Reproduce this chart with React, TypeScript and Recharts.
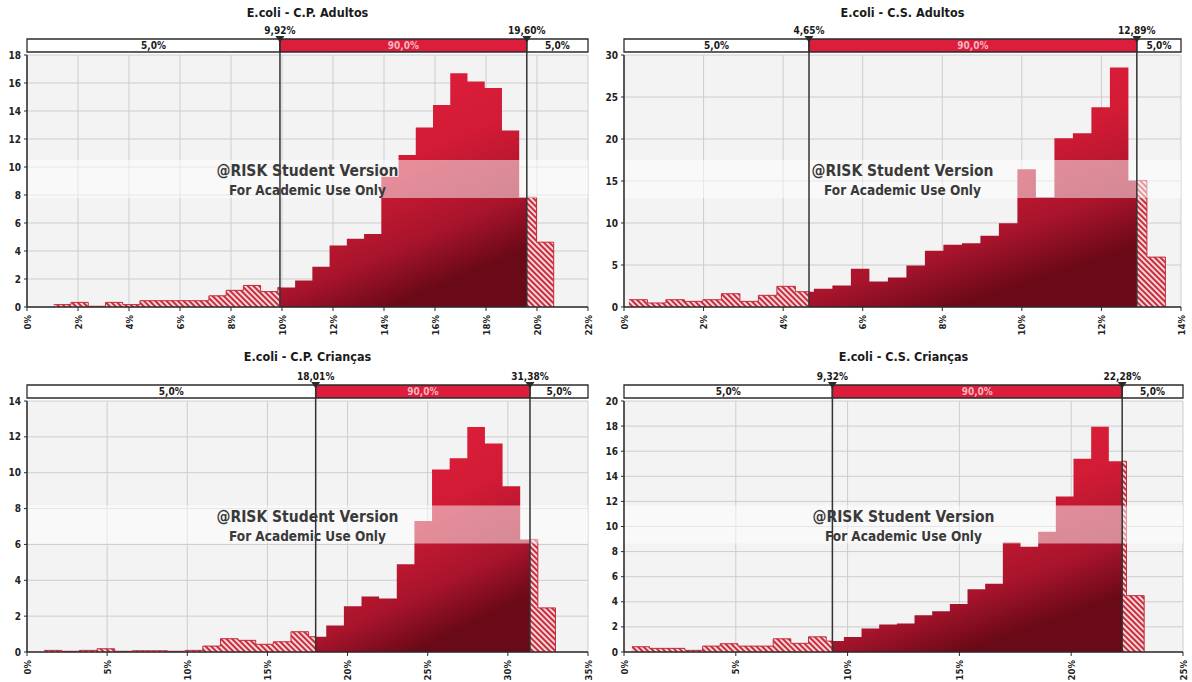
import React from 'react';
import {
  ComposedChart, Area, XAxis, YAxis, CartesianGrid,
  ReferenceArea, ReferenceLine, ReferenceDot,
} from 'recharts';

const FONT = '"DejaVu Sans Condensed", "DejaVu Sans", sans-serif';

// bin heights, bins start at *Start and are *Width wide (in %)
const cpAdultosHeights = [
  0.17, 0.33, 0.05, 0.33, 0.17, 0.45, 0.45, 0.45, 0.45, 0.8, 1.19, 1.54, 1.1, 1.4,
  1.9, 2.87, 4.4, 4.87, 5.22, 9.3, 10.86, 12.83, 14.43, 16.7, 16.1, 15.64, 12.6, 7.84, 4.63,
];
const cpAdultosStart = 1.05;
const cpAdultosWidth = 0.676;
const cpAdultosLimits = [9.92, 19.6];
const cpAdultosXTicks = [0, 2, 4, 6, 8, 10, 12, 14, 16, 18, 20, 22];
const cpAdultosYTicks = [0, 2, 4, 6, 8, 10, 12, 14, 16, 18];

const csAdultosHeights = [
  0.87, 0.48, 0.87, 0.67, 0.87, 1.58, 0.67, 1.39, 2.46, 1.82, 2.18, 2.57, 4.55, 3.05,
  3.52, 4.95, 6.69, 7.4, 7.6, 8.47, 9.98, 16.4, 13.07, 20.08, 20.67, 23.77, 28.5, 15.05, 5.94,
];
const csAdultosStart = 0.123;
const csAdultosWidth = 0.465;
const csAdultosLimits = [4.65, 12.89];
const csAdultosXTicks = [0, 2, 4, 6, 8, 10, 12, 14];
const csAdultosYTicks = [0, 5, 10, 15, 20, 25, 30];

const cpCriancasHeights = [
  0.09, 0.04, 0.09, 0.18, 0.04, 0.07, 0.07, 0.04, 0.09, 0.33, 0.74, 0.65, 0.43, 0.57,
  1.13, 0.85, 1.48, 2.55, 3.1, 2.98, 4.9, 7.3, 10.18, 10.8, 12.55, 11.63, 9.24, 6.28, 2.46,
];
const cpCriancasStart = 1.07;
const cpCriancasWidth = 1.1;
const cpCriancasLimits = [18.01, 31.38];
const cpCriancasXTicks = [0, 5, 10, 15, 20, 25, 30, 35];
const cpCriancasYTicks = [0, 2, 4, 6, 8, 10, 12, 14];

const csCriancasHeights = [
  0.42, 0.29, 0.29, 0.13, 0.47, 0.66, 0.47, 0.47, 1.05, 0.69, 1.21, 0.87, 1.19, 1.87,
  2.19, 2.27, 2.93, 3.25, 3.83, 5.01, 5.44, 8.73, 8.39, 9.58, 12.4, 15.39, 17.95, 15.2, 4.49,
];
const csCriancasStart = 0.353;
const csCriancasWidth = 0.79;
const csCriancasLimits = [9.32, 22.28];
const csCriancasXTicks = [0, 5, 10, 15, 20, 25];
const csCriancasYTicks = [0, 2, 4, 6, 8, 10, 12, 14, 16, 18, 20];

const delimiterLabels = ['5,0%', '90,0%', '5,0%'];

type Row = { x: number; inner: number | null; outer: number | null };

// split the histogram into the part inside the 90% interval and the tails
function buildRows(heights: number[], start: number, width: number, lo: number, hi: number): Row[] {
  const rows: Row[] = [];
  heights.forEach((h, i) => {
    const x0 = start + i * width;
    const x1 = x0 + width;
    const inside = x0 >= lo && x0 < hi;
    rows.push({ x: x0, inner: inside ? h : null, outer: inside ? null : h });
    if (lo > x0 && lo < x1) rows.push({ x: lo, inner: h, outer: 0 });
    if (hi > x0 && hi < x1) rows.push({ x: hi, inner: 0, outer: h });
  });
  rows.push({ x: start + heights.length * width, inner: null, outer: 0 });
  return rows;
}

const fmtPct = (v: number) => `${v.toFixed(2).replace('.', ',')}%`;

const XTick = (props: any) => {
  const { x, y, payload } = props;
  const ty = y + 2;
  return (
    <text
      x={x}
      y={ty}
      transform={`rotate(-90, ${x}, ${ty})`}
      textAnchor="end"
      dominantBaseline="central"
      fontSize={9.5}
      fontWeight="bold"
      fontFamily={FONT}
      fill="#222"
    >
      {`${payload.value}%`}
    </text>
  );
};

const marker = (label: string) => (props: any) => {
  const { cx, cy } = props;
  return (
    <g>
      <polygon points={`${cx - 4.5},${cy - 3} ${cx + 4.5},${cy - 3} ${cx},${cy + 3.5}`} fill="#2a2a2a" />
      <text x={cx} y={cy - 5.5} textAnchor="middle" fontSize={10} fontWeight="bold" fontFamily={FONT} fill="#1a1a1a">
        {label}
      </text>
    </g>
  );
};

interface PanelProps {
  id: string;
  title: string;
  heights: number[];
  start: number;
  width: number;
  limits: number[];
  xTicks: number[];
  yTicks: number[];
  left: number;
  top: number;
  chartH: number;
  xAxisH: number;
  titleTop: number;
  margin: { top: number; right: number; bottom: number; left: number };
}

const W = 596;
const Y_AXIS_W = 22;

function Histogram(p: PanelProps) {
  const [lo, hi] = p.limits;
  const xMax = p.xTicks[p.xTicks.length - 1];
  const yMax = p.yTicks[p.yTicks.length - 1];
  const plotLeft = p.margin.left + Y_AXIS_W;
  const plotRight = W - p.margin.right;
  const plotTop = p.margin.top;
  const plotH = p.chartH - p.margin.bottom - p.xAxisH - plotTop;
  const plotW = plotRight - plotLeft;
  const ppu = plotH / yMax;
  const delimTop = yMax + 16 / ppu;
  const delimBottom = yMax + 3 / ppu;
  const bandTop = yMax - (plotH / 2 - 21) / ppu;
  const bandBottom = yMax - (plotH / 2 + 17) / ppu;
  const rows = React.useMemo(() => buildRows(p.heights, p.start, p.width, lo, hi), [p.heights, p.start, p.width, lo, hi]);
  const lblStyle = { fontSize: 10, fontWeight: 'bold', fontFamily: FONT };

  return (
    <div style={{ position: 'absolute', left: p.left, top: p.top, width: W, height: p.chartH }}>
      <div
        style={{
          position: 'absolute', left: plotLeft, width: plotW, top: p.titleTop, textAlign: 'center',
          fontFamily: FONT, fontWeight: 'bold', fontSize: 12.5, color: '#1a1a1a', lineHeight: '16px',
        }}
      >
        {p.title}
      </div>
      <ComposedChart width={W} height={p.chartH} data={rows} margin={p.margin}>
        <defs>
          <linearGradient id={`solid-${p.id}`} x1="0" y1="0" x2="0.45" y2="1">
            <stop offset="0" stopColor="#e4203e" />
            <stop offset="0.5" stopColor="#d21b35" />
            <stop offset="0.8" stopColor="#a8142c" />
            <stop offset="1" stopColor="#6a0917" />
          </linearGradient>
          <pattern id={`hatch-${p.id}`} width="4" height="4" patternUnits="userSpaceOnUse" patternTransform="rotate(-45)">
            <rect width="4" height="4" fill="#f6d8d8" />
            <rect width="2" height="4" fill="#c92c3e" />
          </pattern>
        </defs>
        <CartesianGrid stroke="#cdcdcd" fill="#f3f3f3" />
        <XAxis
          dataKey="x"
          type="number"
          domain={[0, xMax]}
          ticks={p.xTicks}
          allowDataOverflow
          height={p.xAxisH}
          tick={<XTick />}
          tickSize={4}
          tickMargin={2}
          stroke="#2a2a2a"
          axisLine={{ stroke: '#2a2a2a', strokeWidth: 1.5 }}
          interval={0}
        />
        <YAxis
          type="number"
          domain={[0, yMax]}
          ticks={p.yTicks}
          width={Y_AXIS_W}
          tickSize={3}
          tickMargin={3}
          interval={0}
          stroke="#2a2a2a"
          axisLine={{ stroke: '#2a2a2a', strokeWidth: 1.5 }}
          tick={{ fontSize: 10, fontWeight: 'bold', fill: '#222', fontFamily: FONT }}
        />
        <Area
          type="stepAfter"
          dataKey="outer"
          baseValue={0}
          fill={`url(#hatch-${p.id})`}
          fillOpacity={1}
          stroke="#c42a3a"
          strokeWidth={1}
          dot={false}
          activeDot={false}
          isAnimationActive={false}
        />
        <Area
          type="stepAfter"
          dataKey="inner"
          baseValue={0}
          fill={`url(#solid-${p.id})`}
          fillOpacity={1}
          stroke="none"
          dot={false}
          activeDot={false}
          isAnimationActive={false}
        />
        {/* watermark band */}
        <ReferenceArea
          x1={0}
          x2={xMax}
          y1={bandBottom}
          y2={bandTop}
          fill="#ffffff"
          fillOpacity={0.5}
          stroke="none"
          zIndex={200}
        />
        {/* delimiter bar above the plot */}
        <ReferenceArea x1={0} x2={lo} y1={delimBottom} y2={delimTop} ifOverflow="visible" fill="#ffffff" fillOpacity={1}
          stroke="#2b2b2b" strokeWidth={1.3} zIndex={500}
          label={{ value: delimiterLabels[0], position: 'center', fill: '#1a1a1a', ...lblStyle }} />
        <ReferenceArea x1={lo} x2={hi} y1={delimBottom} y2={delimTop} ifOverflow="visible" fill="#dc1d3b" fillOpacity={1}
          stroke="#2b2b2b" strokeWidth={1.3} zIndex={500}
          label={{ value: delimiterLabels[1], position: 'center', fill: '#f6b6c0', ...lblStyle }} />
        <ReferenceArea x1={hi} x2={xMax} y1={delimBottom} y2={delimTop} ifOverflow="visible" fill="#ffffff" fillOpacity={1}
          stroke="#2b2b2b" strokeWidth={1.3} zIndex={500}
          label={{ value: delimiterLabels[2], position: 'center', fill: '#1a1a1a', ...lblStyle }} />
        <ReferenceLine segment={[{ x: lo, y: 0 }, { x: lo, y: delimTop }]} ifOverflow="visible" stroke="#333" strokeWidth={1.5} zIndex={700} />
        <ReferenceLine segment={[{ x: hi, y: 0 }, { x: hi, y: delimTop }]} ifOverflow="visible" stroke="#333" strokeWidth={1.5} zIndex={700} />
        <ReferenceDot x={lo} y={delimTop} ifOverflow="visible" r={4} shape={marker(fmtPct(lo))} zIndex={800} />
        <ReferenceDot x={hi} y={delimTop} ifOverflow="visible" r={4} shape={marker(fmtPct(hi))} zIndex={800} />
      </ComposedChart>
      <div
        style={{
          position: 'absolute', left: plotLeft, width: plotW, top: plotTop + plotH / 2 - 20,
          textAlign: 'center', color: '#3a3a3a', fontFamily: FONT, fontWeight: 'bold', pointerEvents: 'none',
        }}
      >
        <div style={{ fontSize: 15.5, lineHeight: '20px' }}>@RISK Student Version</div>
        <div style={{ fontSize: 13.5, lineHeight: '18px' }}>For Academic Use Only</div>
      </div>
    </div>
  );
}

export default function App() {
  return (
    <div style={{ position: 'absolute', left: 0, top: 0, width: 1192, height: 682, background: '#fff', overflow: 'hidden' }}>
      <Histogram
        id="a" title="E.coli - C.P. Adultos"
        heights={cpAdultosHeights} start={cpAdultosStart} width={cpAdultosWidth} limits={cpAdultosLimits}
        xTicks={cpAdultosXTicks} yTicks={cpAdultosYTicks}
        left={0} top={0} chartH={341} xAxisH={34} titleTop={5}
        margin={{ top: 55, right: 8, bottom: 0, left: 5 }}
      />
      <Histogram
        id="b" title="E.coli - C.S. Adultos"
        heights={csAdultosHeights} start={csAdultosStart} width={csAdultosWidth} limits={csAdultosLimits}
        xTicks={csAdultosXTicks} yTicks={csAdultosYTicks}
        left={596} top={0} chartH={341} xAxisH={34} titleTop={5}
        margin={{ top: 55, right: 11, bottom: 0, left: 6 }}
      />
      <Histogram
        id="c" title="E.coli - C.P. Crianças"
        heights={cpCriancasHeights} start={cpCriancasStart} width={cpCriancasWidth} limits={cpCriancasLimits}
        xTicks={cpCriancasXTicks} yTicks={cpCriancasYTicks}
        left={0} top={346} chartH={336} xAxisH={30} titleTop={3}
        margin={{ top: 55, right: 8, bottom: 0, left: 5 }}
      />
      <Histogram
        id="d" title="E.coli - C.S. Crianças"
        heights={csCriancasHeights} start={csCriancasStart} width={csCriancasWidth} limits={csCriancasLimits}
        xTicks={csCriancasXTicks} yTicks={csCriancasYTicks}
        left={596} top={346} chartH={336} xAxisH={30} titleTop={3}
        margin={{ top: 55, right: 9, bottom: 0, left: 6 }}
      />
    </div>
  );
}
